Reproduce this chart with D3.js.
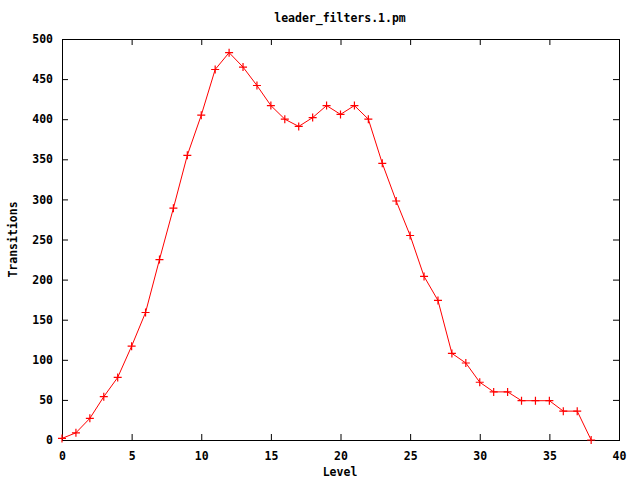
<!DOCTYPE html>
<html>
<head>
<meta charset="utf-8">
<script src="https://d3js.org/d3.v7.min.js"></script>
<style>
  body { margin: 0; background: #fff; }
  text { font-family: "DejaVu Sans Mono", monospace; font-weight: bold; font-size: 11.5px; fill: #000; }
</style>
</head>
<body>
<div id="chart"></div>
<script>
  // data
  const levels = d3.range(0, 39)
  const transitions = [2, 9, 27, 54, 78, 117, 159, 225, 289, 355, 405, 462, 483, 465, 442, 417,
    400, 391, 402, 417, 406, 417, 400, 345, 298, 255, 204, 174, 108, 96, 72, 60, 60, 49, 49, 49,
    36, 36, 0]
  const xTicks = [0, 5, 10, 15, 20, 25, 30, 35, 40]
  const yTicks = [0, 50, 100, 150, 200, 250, 300, 350, 400, 450, 500]

  const width = 640, height = 480
  const margin = { top: 39, right: 20, bottom: 40, left: 62 }

  const x = d3.scaleLinear().domain([0, 40]).range([margin.left, width - margin.right - 1])
  const y = d3.scaleLinear().domain([0, 500]).range([height - margin.bottom, margin.top])

  const svg = d3.select('#chart').append('svg')
    .attr('width', width)
    .attr('height', height)

  const tick = 6

  // bottom + top ticks (pointing inward)
  svg.append('g')
    .attr('transform', `translate(0,${y(0)})`)
    .call(d3.axisBottom(x).tickValues(xTicks).tickSizeInner(-tick).tickSizeOuter(0).tickPadding(12))
    .call(g => g.select('.domain').remove())
  svg.append('g')
    .attr('transform', `translate(0,${y(500)})`)
    .call(d3.axisTop(x).tickValues(xTicks).tickSizeInner(-tick).tickSizeOuter(0).tickFormat(''))
    .call(g => g.select('.domain').remove())

  svg.append('g')
    .attr('transform', `translate(${x(0)},0)`)
    .call(d3.axisLeft(y).tickValues(yTicks).tickSizeInner(-tick).tickSizeOuter(0).tickPadding(9))
    .call(g => g.select('.domain').remove())
  svg.append('g')
    .attr('transform', `translate(${x(40)},0)`)
    .call(d3.axisRight(y).tickValues(yTicks).tickSizeInner(-tick).tickSizeOuter(0).tickFormat(''))
    .call(g => g.select('.domain').remove())

  svg.selectAll('.tick line').attr('stroke', '#000')
  svg.selectAll('.tick text').style('font-family', '"DejaVu Sans Mono", monospace')
    .style('font-weight', 'bold').style('font-size', '11.5px').attr('fill', '#000')

  // frame
  svg.append('rect')
    .attr('x', x(0) + 0.5).attr('y', y(500) + 0.5)
    .attr('width', x(40) - x(0)).attr('height', y(0) - y(500))
    .attr('fill', 'none').attr('stroke', '#000')

  const pts = levels.map((l, i) => [l, transitions[i]])

  svg.append('path')
    .datum(pts)
    .attr('fill', 'none')
    .attr('stroke', '#ff0000')
    .attr('stroke-width', 1)
    .attr('d', d3.line().x(d => x(d[0])).y(d => y(d[1])))

  const s = 4
  svg.append('g').selectAll('path')
    .data(pts).enter()
    .append('path')
    .attr('stroke', '#ff0000')
    .attr('stroke-width', 1.2)
    .attr('d', d => {
      const px = x(d[0]), py = y(d[1])
      return `M${px - s},${py}H${px + s}M${px},${py - s}V${py + s}`
    })

  svg.append('text')
    .attr('x', 340).attr('y', 22)
    .attr('text-anchor', 'middle')
    .text('leader_filters.1.pm')

  svg.append('text')
    .attr('x', 340).attr('y', 476)
    .attr('text-anchor', 'middle')
    .text('Level')

  svg.append('text')
    .attr('transform', `translate(17,${(y(0) + y(500)) / 2}) rotate(-90)`)
    .attr('text-anchor', 'middle')
    .text('Transitions')
</script>
</body>
</html>
